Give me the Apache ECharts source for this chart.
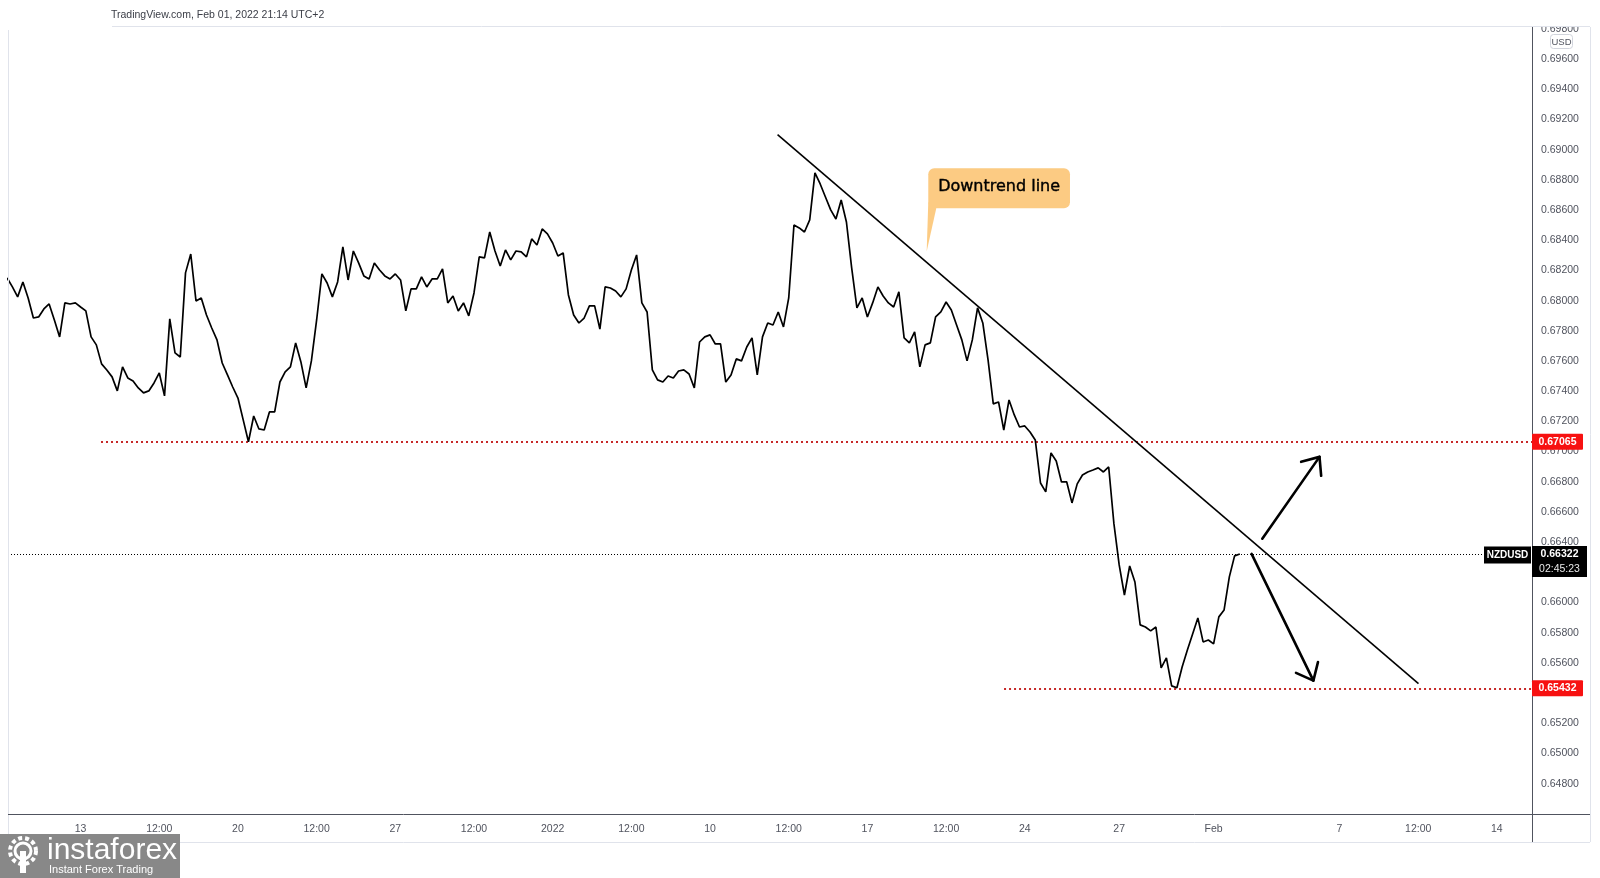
<!DOCTYPE html>
<html><head><meta charset="utf-8">
<script src="https://cdn.jsdelivr.net/npm/echarts@6/dist/echarts.min.js"></script>
<style>html,body{margin:0;padding:0;background:#fff}#c{width:1600px;height:878px}</style>
</head><body><div id="c"></div>
<script>
// ---- data (4H bars, bar 0 = Dec 13 00:00) ----
const startBar = -14;
const closes = [
0.68150,0.68091,0.68025,0.68124,0.68018,0.67885,0.67892,0.67945,0.67978,0.67872,
0.67760,0.67985,0.67978,0.67985,0.67958,0.67932,0.67760,0.67707,0.67581,0.67541,
0.67495,0.67402,0.67561,0.67488,0.67468,0.67422,0.67389,0.67402,0.67455,0.67521,
0.67369,0.67879,0.67654,0.67627,0.68184,0.68309,0.67998,0.68018,0.67905,0.67819,
0.67740,0.67587,0.67508,0.67428,0.67355,0.67210,0.67065,0.67236,0.67150,0.67143,
0.67263,0.67263,0.67461,0.67528,0.67561,0.67720,0.67594,0.67422,0.67601,0.67872,
0.68177,0.68117,0.68025,0.68124,0.68356,0.68137,0.68329,0.68250,0.68164,0.68144,
0.68250,0.68203,0.68164,0.68144,0.68177,0.68137,0.67932,0.68078,0.68078,0.68157,
0.68091,0.68144,0.68144,0.68210,0.67985,0.68031,0.67932,0.67985,0.67899,0.68051,
0.68290,0.68283,0.68455,0.68329,0.68230,0.68336,0.68270,0.68329,0.68323,0.68290,
0.68409,0.68369,0.68475,0.68442,0.68382,0.68296,0.68316,0.68038,0.67905,0.67852,
0.67885,0.67965,0.67965,0.67812,0.68091,0.68084,0.68064,0.68025,0.68078,0.68203,
0.68303,0.67985,0.67925,0.67541,0.67475,0.67461,0.67501,0.67488,0.67534,0.67541,
0.67514,0.67422,0.67726,0.67760,0.67773,0.67713,0.67713,0.67461,0.67508,0.67614,
0.67601,0.67693,0.67753,0.67508,0.67760,0.67852,0.67839,0.67925,0.67826,0.68018,
0.68501,0.68482,0.68455,0.68535,0.68846,0.68773,0.68687,0.68601,0.68541,0.68667,
0.68521,0.68217,0.67952,0.68018,0.67892,0.67985,0.68091,0.68031,0.67985,0.67958,
0.68058,0.67753,0.67720,0.67793,0.67561,0.67707,0.67720,0.67892,0.67925,0.67991,
0.67938,0.67839,0.67740,0.67601,0.67740,0.67952,0.67852,0.67607,0.67316,0.67329,
0.67143,0.67342,0.67243,0.67163,0.67170,0.67130,0.67077,0.66792,0.66733,0.66991,
0.66938,0.66799,0.66799,0.66660,0.66786,0.66845,0.66865,0.66878,0.66892,0.66865,
0.66898,0.66521,0.66249,0.66050,0.66242,0.66136,0.65852,0.65838,0.65812,0.65838,
0.65567,0.65633,0.65448,0.65435,0.65573,0.65686,0.65792,0.65898,0.65739,0.65752,
0.65726,0.65905,0.65951,0.66170,0.66309,0.66322
];
const xTickBars = [0,15,30,45,60,75,90,105,120,135,150,165,180,198,216,240,255,270];
const xTickLabels = ['13','12:00','20','12:00','27','12:00','2022','12:00','10','12:00','17','12:00','24','27','Feb','7','12:00','14'];
const yTicks = [0.648,0.650,0.652,0.654,0.656,0.658,0.660,0.662,0.664,0.666,0.668,0.670,0.672,0.674,0.676,0.678,0.680,0.682,0.684,0.686,0.688,0.690,0.692,0.694,0.696,0.698];
const trendBars = [132.87, 255.06];
const trendValues = [0.69100, 0.65463];
const levelValues = [0.67065, 0.65432];
const levelStartBars = [3.89, 176.05];
const lastPrice = 0.66322;
const symbolName = 'NZDUSD';
const countdown = '02:45:23';
const arrowFromBars = [225.28, 223.24];
const arrowFromValues = [0.66423, 0.66322];
const arrowToBars = [236.19, 235.02];
const arrowToValues = [0.66965, 0.65483];
const calloutText = 'Downtrend line';
const calloutTipBar = 161.3, calloutTipValue = 0.68325;
const headerText = 'TradingView.com, Feb 01, 2022 21:14 UTC+2';

const xMin = -13.84, xMax = 276.7;
const lineData = closes.map((v, i) => [startBar + i, v]);
const FONT = 'Liberation Sans';

const chart = echarts.init(document.getElementById('c'));
chart.setOption({
  animation: false,
  backgroundColor: '#ffffff',
  grid: { left: 8, top: 27, width: 1524, height: 787 },
  xAxis: {
    type: 'value', min: xMin, max: xMax,
    axisLine: { show: false }, axisTick: { show: false }, splitLine: { show: false },
    axisLabel: {
      customValues: xTickBars,
      formatter: v => { const i = xTickBars.indexOf(Math.round(v)); return i >= 0 ? xTickLabels[i] : ''; },
      color: '#50535e', fontSize: 10.5, fontFamily: FONT, margin: 10
    }
  },
  yAxis: {
    type: 'value', position: 'right', min: 0.64599, max: 0.69813, scale: true,
    axisLine: { show: false }, axisTick: { show: false }, splitLine: { show: false },
    axisLabel: {
      customValues: yTicks,
      formatter: v => v.toFixed(5),
      color: '#50535e', fontSize: 10.5, fontFamily: FONT, margin: 9
    }
  },
  series: [
    {
      type: 'line', data: lineData, symbol: 'none', z: 5,
      lineStyle: { color: '#000', width: 1.7 },
      markLine: {
        silent: true, symbol: 'none', label: { show: false }, precision: 5,
        lineStyle: { color: '#000', width: 1, type: [1, 2] },
        data: [[{ coord: [xMin, lastPrice] }, { coord: [xMax, lastPrice] }]]
      }
    },
    {
      type: 'line', data: trendBars.map((b, i) => [b, trendValues[i]]), symbol: 'none', z: 6,
      lineStyle: { color: '#000', width: 1.6 }
    },
    {
      type: 'line', data: [], z: 4,
      markLine: {
        silent: true, symbol: 'none', label: { show: false }, precision: 5,
        lineStyle: { color: '#c62828', width: 2, type: [2, 3] },
        data: levelValues.map((v, i) => [{ coord: [levelStartBars[i], v] }, { coord: [xMax, v] }])
      }
    }
  ]
});

function px(b, v) { return chart.convertToPixel({ gridIndex: 0 }, [b, v]); }
const g = [];
// frame
const gl = (x1, y1, x2, y2, c) => g.push({ type: 'line', shape: { x1, y1, x2, y2 }, style: { stroke: c, lineWidth: 1 }, z: 50 });
g.push({ type: 'rect', shape: { x: 1533, y: 0, width: 67, height: 26 }, style: { fill: '#fff' }, z: 49 });
gl(112, 26.5, 1590, 26.5, '#e0e3eb');
gl(8.5, 30, 8.5, 842, '#e0e3eb');
gl(1590.5, 27, 1590.5, 842, '#e0e3eb');
gl(8, 842.5, 1590, 842.5, '#e0e3eb');
gl(1532.5, 27, 1532.5, 842, '#50535e');
gl(8, 814.5, 1590, 814.5, '#50535e');
g.push({ type: 'text', x: 111, y: 15, style: { text: headerText, fill: '#3a3d46', font: '10.5px ' + FONT, verticalAlign: 'middle' }, z: 50 });
// USD box
g.push({ type: 'rect', shape: { x: 1550.5, y: 34.5, width: 22, height: 14, r: 3 }, style: { fill: '#fff', stroke: '#d1d4dc', lineWidth: 1 }, z: 51 });
g.push({ type: 'text', x: 1561.5, y: 42, style: { text: 'USD', fill: '#50535e', font: '9.5px ' + FONT, align: 'center', verticalAlign: 'middle' }, z: 52 });
// level labels
levelValues.forEach(v => {
  const p = px(xMax, v);
  g.push({ type: 'rect', shape: { x: 1532, y: p[1] - 8, width: 51, height: 16, r: 1 }, style: { fill: '#f71111' }, z: 51 });
  g.push({ type: 'text', x: 1557.5, y: p[1], style: { text: v.toFixed(5), fill: '#fff', font: 'bold 10.5px ' + FONT, align: 'center', verticalAlign: 'middle' }, z: 52 });
});
// last price labels
{
  const p = px(xMax, lastPrice);
  g.push({ type: 'rect', shape: { x: 1484, y: p[1] - 7.5, width: 47, height: 17 }, style: { fill: '#000' }, z: 51 });
  g.push({ type: 'text', x: 1507.5, y: p[1] + 1, style: { text: symbolName, fill: '#fff', font: 'bold 10px ' + FONT, align: 'center', verticalAlign: 'middle' }, z: 52 });
  g.push({ type: 'rect', shape: { x: 1532, y: p[1] - 8, width: 55, height: 31 }, style: { fill: '#000' }, z: 51 });
  g.push({ type: 'text', x: 1559.5, y: p[1], style: { text: lastPrice.toFixed(5), fill: '#fff', font: 'bold 10.5px ' + FONT, align: 'center', verticalAlign: 'middle' }, z: 52 });
  g.push({ type: 'text', x: 1559.5, y: p[1] + 15, style: { text: countdown, fill: '#e8e8e8', font: '10.5px ' + FONT, align: 'center', verticalAlign: 'middle' }, z: 52 });
}
// arrows
arrowFromBars.forEach((b, i) => {
  const a = px(b, arrowFromValues[i]), t = px(arrowToBars[i], arrowToValues[i]);
  const ang = Math.atan2(a[1] - t[1], a[0] - t[0]);
  const L = 19, d = 40 * Math.PI / 180;
  const h1 = [t[0] + L * Math.cos(ang + d), t[1] + L * Math.sin(ang + d)];
  const h2 = [t[0] + L * Math.cos(ang - d), t[1] + L * Math.sin(ang - d)];
  const st = { stroke: '#000', lineWidth: 2.6, lineCap: 'round', lineJoin: 'round', fill: null };
  g.push({ type: 'polyline', shape: { points: [a, t] }, style: st, z: 40 });
  g.push({ type: 'polyline', shape: { points: [h1, t, h2] }, style: st, z: 40 });
});
// callout
{
  const t = px(calloutTipBar, calloutTipValue);
  const bx = t[0] + 1.6, by = t[1] - 83.4, bw = 141.7, bh = 40;
  g.push({ type: 'rect', shape: { x: bx, y: by, width: bw, height: bh, r: 6 }, style: { fill: '#fccb83' }, z: 45 });
  g.push({ type: 'polygon', shape: { points: [[bx, by + bh - 6], [bx + 8, by + bh], [t[0], t[1]]] }, style: { fill: '#fccb83' }, z: 45 });
  g.push({ type: 'text', x: bx + bw / 2, y: by + bh / 2 - 1, style: { text: calloutText, fill: '#000', font: '16px DejaVu Sans', align: 'center', verticalAlign: 'middle', stroke: '#000', lineWidth: 0.4 }, z: 46 });
}
// logo
g.push({ type: 'rect', shape: { x: 0, y: 834, width: 180, height: 44 }, style: { fill: '#888888' }, z: 60 });
g.push({ type: 'circle', shape: { cx: 23, cy: 851, r: 13 }, style: { fill: 'none', stroke: '#fff', lineWidth: 4, lineDash: [4, 3] }, z: 61 });
g.push({ type: 'circle', shape: { cx: 23, cy: 851, r: 8 }, style: { fill: 'none', stroke: '#fff', lineWidth: 3 }, z: 61 });
g.push({ type: 'rect', shape: { x: 20, y: 851, width: 6, height: 22 }, style: { fill: '#fff' }, z: 61 });
g.push({ type: 'text', x: 47, y: 851, style: { text: 'instaforex', fill: '#fff', font: '30px ' + FONT, verticalAlign: 'middle' }, z: 61 });
g.push({ type: 'text', x: 49, y: 870, style: { text: 'Instant Forex Trading', fill: '#fff', font: '11px ' + FONT, verticalAlign: 'middle' }, z: 61 });

chart.setOption({ graphic: { elements: g } });
</script>
</body></html>
